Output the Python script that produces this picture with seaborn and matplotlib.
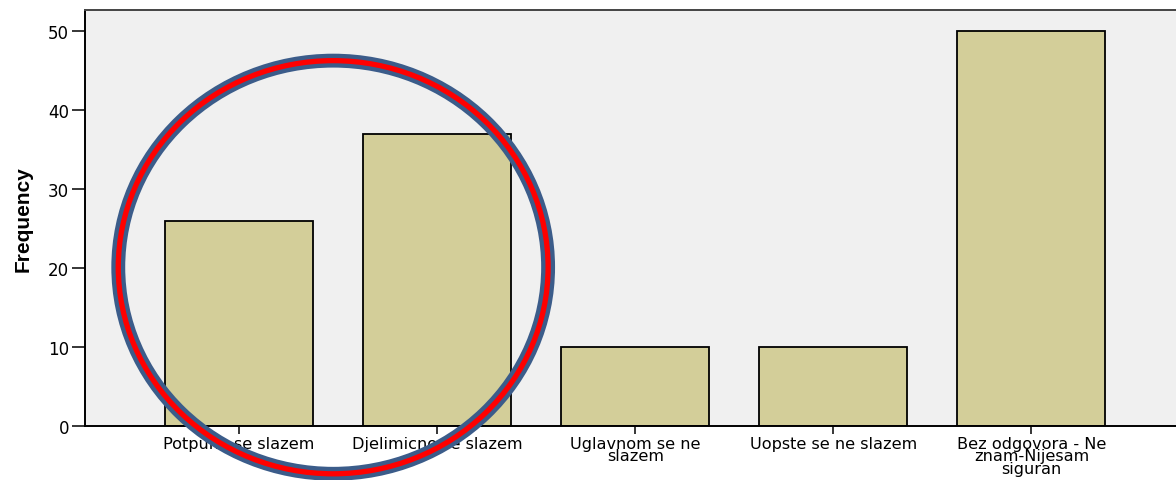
import matplotlib
matplotlib.use("Agg")
import matplotlib.pyplot as plt
import seaborn as sns
import pandas as pd
from matplotlib.patches import Ellipse

# --- Data ---
CATEGORIES = [
    "Potpuno se slazem",
    "Djelimicno se slazem",
    "Uglavnom se ne\nslazem",
    "Uopste se ne slazem",
    "Bez odgovora - Ne\nznam-Nijesam\nsiguran",
]
FREQUENCIES = [26, 37, 10, 10, 50]
Y_TICKS = [0, 10, 20, 30, 40, 50]

# --- Style ---
BAR_COLOR = "#d3ce99"
BG_COLOR = "#f0f0f0"

sns.set_style("white")
plt.rcParams["font.family"] = ["DejaVu Sans"]

df = pd.DataFrame({"Category": CATEGORIES, "Frequency": FREQUENCIES})

fig = plt.figure(figsize=(11.76, 4.81), dpi=100)
ax = fig.add_axes([85 / 1176, 54 / 481, 1 - 85 / 1176, 416 / 481])
ax.set_facecolor(BG_COLOR)

sns.barplot(data=df, x="Category", y="Frequency", color=BAR_COLOR,
            edgecolor="black", linewidth=1.3, width=0.747, saturation=1, ax=ax)

ax.set_xlim(-0.778, 4.73)
ax.set_ylim(0, 52.66)
ax.set_yticks(Y_TICKS)
ax.set_xlabel("")
ax.set_ylabel("Frequency", fontsize=15, fontweight="bold", color="black",
              family=["Liberation Sans Narrow", "Liberation Sans", "DejaVu Sans"],
              labelpad=11)
ax.tick_params(axis="y", direction="out", length=9.5, width=1.3, labelsize=12,
               pad=2, left=True, labelcolor="black")
ax.tick_params(axis="x", direction="out", length=6, width=1.3, labelsize=11.6,
               pad=1, bottom=True, labelcolor="black")
for lbl in ax.get_xticklabels():
    lbl.set_linespacing(0.8)

for side in ["left", "bottom"]:
    ax.spines[side].set_color("black")
    ax.spines[side].set_linewidth(1.4)
ax.spines["top"].set_color("#444444")
ax.spines["top"].set_linewidth(1.4)
ax.spines["right"].set_visible(False)

# --- Highlight circle (annotation) ---
for lw, col in [(10, "#3b5c8a"), (3.8, "#ff0000")]:
    ax.add_patch(Ellipse((0.475, 20.1), 2.17, 52.3, fill=False,
                         edgecolor=col, linewidth=lw, clip_on=False, zorder=5))

fig.savefig("out.png", dpi=100)
